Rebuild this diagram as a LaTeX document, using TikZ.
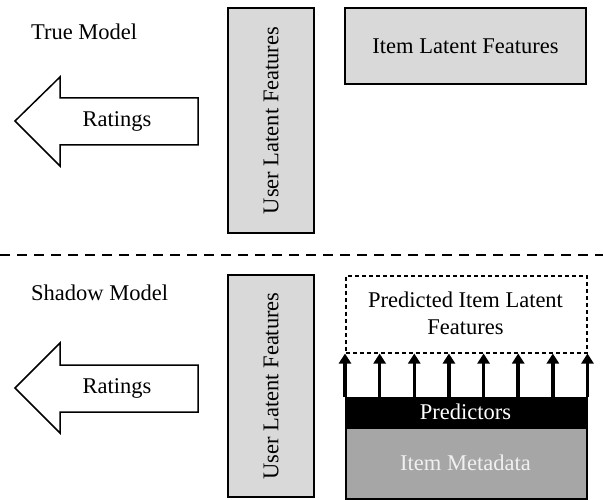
\documentclass[tikz,border=0pt]{standalone}
\usepackage{fontspec}
\setmainfont{Liberation Serif}
\usetikzlibrary{arrows.meta,calc}
\definecolor{lightbox}{HTML}{D9D9D9}
\definecolor{metabox}{HTML}{A6A6A6}
\tikzset{
  lbl/.style={font=\fontsize{22.5}{27}\selectfont, inner sep=0pt},
  boxstyle/.style={draw=black, line width=1.5pt, fill=lightbox},
  fatarrow/.style={draw=black, line width=1.5pt, fill=white, line join=miter},
  upar/.style={line width=3.5pt, -{Triangle[length=10pt,width=12pt]}},
}
\begin{document}
\begin{tikzpicture}[x=1pt,y=-1pt]
\useasboundingbox (0,0) rectangle (603,500);
% ---------- True model ----------
\node[lbl, anchor=west] (truelbl) at (31,32) {True Model};
\draw[fatarrow] (15,121) -- (60,77) -- (60,98) -- (198,98) -- (198,145) -- (60,145) -- (60,166) -- cycle;
\node[lbl] (rat1) at (117,121) {Ratings};
\draw[boxstyle] (228,8) rectangle (314,233);
\node[lbl, rotate=90] (ulf1) at (271,120.5) {User Latent Features};
\draw[boxstyle] (345,8) rectangle (586,84);
\node[lbl] (ilf) at (465.5,46) {Item Latent Features};
% ---------- separator ----------
\coordinate (sepL) at (0,255);
\coordinate (sepR) at (603,255);
\draw[line width=2pt, dash pattern=on 10pt off 7pt] (sepL) -- (sepR);
% ---------- Shadow model ----------
\node[lbl, anchor=west] (shadowlbl) at (31,293) {Shadow Model};
\draw[fatarrow] (15,388) -- (60,343) -- (60,365) -- (198,365) -- (198,412) -- (60,412) -- (60,433) -- cycle;
\node[lbl] (rat2) at (117,388) {Ratings};
\draw[boxstyle] (228,275) rectangle (314,497);
\node[lbl, rotate=90] (ulf2) at (271,386) {User Latent Features};
% predicted box
\node[draw=black, line width=1.5pt, dash pattern=on 4pt off 3pt, fill=white,
      minimum width=241pt, minimum height=77pt, anchor=north west, inner sep=0pt] (pred) at (345,275) {};
\node[lbl, align=center] (predtxt) at (465.5,313.5) {Predicted Item Latent\\[0pt]Features};
% predictors
\node[draw=black, line width=1.5pt, fill=black, text=white, lbl,
      minimum width=241pt, minimum height=30pt, anchor=north west] (predictors) at (345,397) {};
\node[lbl, text=white] (predictorstxt) at (465.5,412) {Predictors};
% metadata
\node[draw=black, line width=1.5pt, fill=metabox,
      minimum width=241pt, minimum height=71pt, anchor=north west] (meta) at (345,427) {};
\node[lbl, text=white!94!black] (metatxt) at (465.5,463) {Item Metadata};
% up arrows
\foreach \i in {0,...,7} {
  \draw[upar] ($(predictors.north west)!\i/7!(predictors.north east)$) -- ($(pred.south west)!\i/7!(pred.south east)$);
}
\end{tikzpicture}
\end{document}
